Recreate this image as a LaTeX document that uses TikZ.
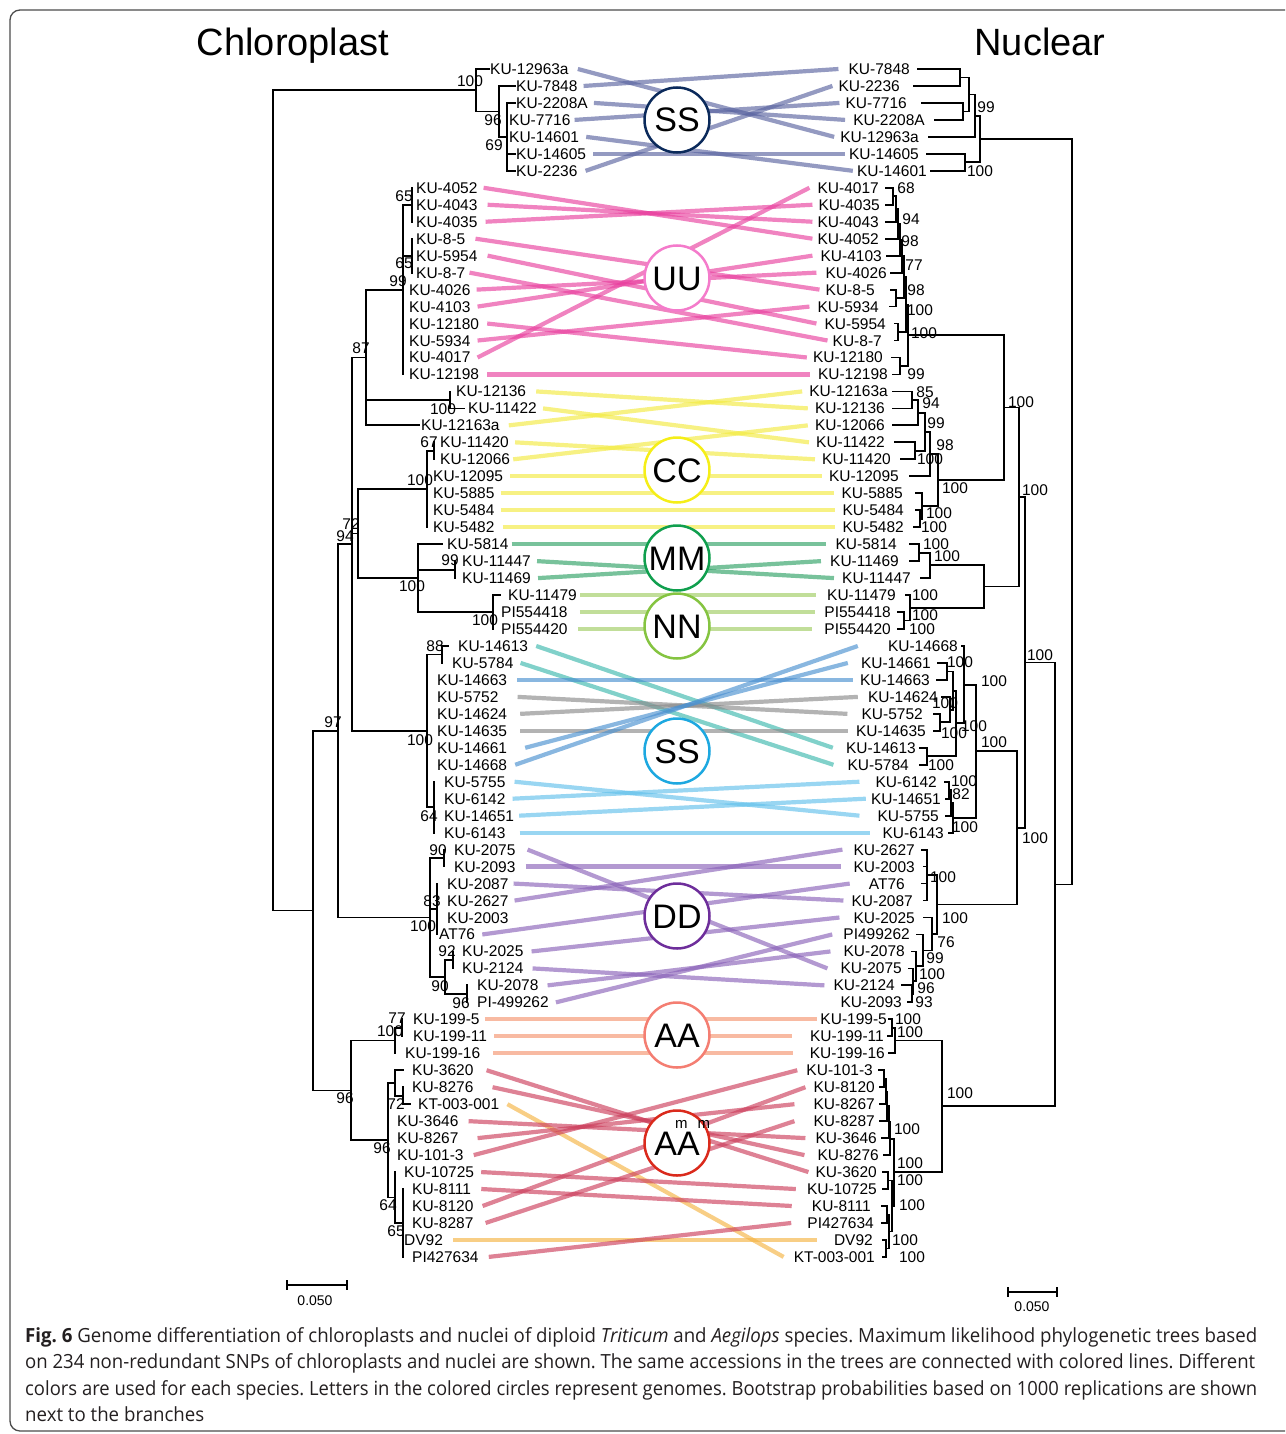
\documentclass[tikz,border=0pt]{standalone}
\usepackage{fontspec}
\setmainfont{Liberation Sans}
\newfontfamily\capfont{Open Sans}
\definecolor{ssL}{HTML}{5A64A0}
\definecolor{uuL}{HTML}{E8409E}
\definecolor{ccL}{HTML}{F2EA40}
\definecolor{mmL}{HTML}{2FA266}
\definecolor{nnL}{HTML}{9FCC62}
\definecolor{teL}{HTML}{3DB8AD}
\definecolor{blL}{HTML}{4A90D0}
\definecolor{grL}{HTML}{8A8A8A}
\definecolor{lbL}{HTML}{62C0EB}
\definecolor{ddL}{HTML}{8A62B8}
\definecolor{aaL}{HTML}{F59570}
\definecolor{amL}{HTML}{CC3F5C}
\definecolor{orL}{HTML}{F5B444}
\definecolor{ssC}{HTML}{0B2A5B}
\definecolor{uuC}{HTML}{F47BCB}
\definecolor{ccC}{HTML}{F5EE18}
\definecolor{mmC}{HTML}{109F4E}
\definecolor{nnC}{HTML}{85C441}
\definecolor{s2C}{HTML}{1DA8E0}
\definecolor{ddC}{HTML}{6E2E9B}
\definecolor{aaC}{HTML}{F47E72}
\definecolor{amC}{HTML}{DA2A1C}
\definecolor{capC}{HTML}{231F20}
\newcommand\lf{\fontsize{15.5}{17}\selectfont}
\newcommand\cf{\capfont\fontsize{19.5}{22}\selectfont\frenchspacing}
\newcommand\lk[5]{\draw[#1] ([xshift=#4pt]l#2.east) -- ([xshift=-#5pt]r#3.west);}
\newcommand\supm{\rlap{\kern-2pt\raisebox{27pt}{\fontsize{15}{15}\selectfont m}}}
\newcommand\capA{\textbf{Fig. 6} Genome differentiation of chloroplasts and nuclei of diploid \textit{Triticum} and \textit{Aegilops} species. Maximum likelihood phylogenetic trees based}
\newcommand\capB{on 234 non-redundant SNPs of chloroplasts and nuclei are shown. The same accessions in the trees are connected with colored lines. Different}
\newcommand\capC{colors are used for each species. Letters in the colored circles represent genomes. Bootstrap probabilities based on 1000 replications are shown}
\newlength\capw
\tikzset{
 brn/.style={line width=1.8pt, line cap=rect},
 ll/.style={anchor=west, inner sep=0pt, font=\lf, text height=11pt, text depth=0pt},
 rl/.style={anchor=east, inner sep=0pt, font=\lf, text height=11pt, text depth=0pt},
 bs/.style={inner sep=0pt, font=\lf, text height=11pt, text depth=0pt},
 lnk/.style={line width=4.2pt, draw opacity=0.65},
 cSS/.style={lnk, draw=ssL}, cUU/.style={lnk, draw=uuL}, cCC/.style={lnk, draw=ccL},
 cMM/.style={lnk, draw=mmL}, cNN/.style={lnk, draw=nnL}, cTe/.style={lnk, draw=teL},
 cBl/.style={lnk, draw=blL}, cGr/.style={lnk, draw=grL}, cLb/.style={lnk, draw=lbL},
 cDD/.style={lnk, draw=ddL}, cAA/.style={lnk, draw=aaL}, cAm/.style={lnk, draw=amL},
 cOr/.style={lnk, draw=orL},
 circ/.style={circle, fill=white, line width=2.5pt, minimum size=65pt, inner sep=0pt, font=\fontsize{34}{34}\selectfont, text height=24pt, text depth=0pt},
 ttl/.style={inner sep=0pt, font=\fontsize{38}{40}\selectfont, text height=27pt, text depth=0pt},
 captxt/.style={anchor=west, inner sep=0pt, font=\cf, text=capC, text height=14pt, text depth=0pt},
 sbar/.style={line width=1.6pt},
 sbl/.style={inner sep=0pt, font=\fontsize{14}{16}\selectfont, text height=10pt, text depth=0pt},
}
\begin{document}
\settowidth\capw{\cf\capA}
\pgfmathsetmacro\capsx{1232/\capw}
\begin{tikzpicture}[x=1pt, y=-1pt]
\useasboundingbox (0,0) rectangle (1285,1434);
\clip (0,0) rectangle (1285,1434);
\draw[line width=1.3pt, draw=black!70, rounded corners=10pt] (10,10) rectangle (1300,1431);

\node[ttl] (tChl) at (293,42) {Chloroplast};
\node[ttl] (tNuc) at (1040,42) {Nuclear};

\begin{scope}[yshift=-69pt, y=-16.97pt]
% left labels
\foreach \xa/\tx [count=\i from 0] in {490/KU-12963a,516/KU-7848,516/KU-2208A,509/KU-7716,509/KU-14601,516/KU-14605,516/KU-2236,
416/KU-4052,416/KU-4043,416/KU-4035,416/KU-8-5,416/KU-5954,416/KU-8-7,409/KU-4026,409/KU-4103,409/KU-12180,409/KU-5934,409/KU-4017,409/KU-12198,
456/KU-12136,468/KU-11422,421/KU-12163a,440/KU-11420,440/KU-12066,433/KU-12095,433/KU-5885,433/KU-5484,433/KU-5482,
447/KU-5814,462/KU-11447,462/KU-11469,508/KU-11479,501/PI554418,501/PI554420,
458/KU-14613,452/KU-5784,437/KU-14663,437/KU-5752,437/KU-14624,437/KU-14635,437/KU-14661,437/KU-14668,444/KU-5755,444/KU-6142,444/KU-14651,444/KU-6143,
454/KU-2075,454/KU-2093,447/KU-2087,447/KU-2627,447/KU-2003,439/AT76,462/KU-2025,462/KU-2124,477/KU-2078,477/PI-499262,
413/KU-199-5,413/KU-199-11,405/KU-199-16,
412/KU-3620,412/KU-8276,418/KT-003-001,397/KU-3646,397/KU-8267,397/KU-101-3,404/KU-10725,412/KU-8111,412/KU-8120,412/KU-8287,404/DV92,412/PI427634}
 {\node[ll] (l\i) at (\xa,\i) {\tx};}
% right labels and leaf branches
\foreach \xa/\tx/\ta/\na [count=\i from 0] in {910/KU-7848/918/960,900/KU-2236/914/960,907/KU-7716/922/963,925/KU-2208A/935/963,919/KU-12963a/929/975,919/KU-14605/927/965,927/KU-14601/931/965,
879/KU-4017/886/893,880/KU-4035/886/893,879/KU-4043/886/896,879/KU-4052/886/898,882/KU-4103/887/900,887/KU-4026/891/902,875/KU-8-5/891/896,879/KU-5934/890/896,886/KU-5954/895/898,882/KU-8-7/895/898,883/KU-12180/892/900,888/KU-12198/893/900,
888/KU-12163a/893/912,885/KU-12136/893/912,885/KU-12066/893/918,885/KU-11422/895/915,891/KU-11420/901/915,899/KU-12095/910/930,903/KU-5885/916/922,904/KU-5484/916/920,904/KU-5482/914/920,
897/KU-5814/910/919,899/KU-11469/910/919,911/KU-11447/921/930,896/KU-11479/906/910,891/PI554418/898/904,891/PI554420/898/904,
958/KU-14668/962/964,931/KU-14661/938/947,930/KU-14663/937/947,938/KU-14624/942/950,923/KU-5752/934/940,926/KU-14635/934/940,916/KU-14613/920/927,909/KU-5784/920/927,937/KU-6142/945/949,941/KU-14651/946/949,939/KU-5755/946/951,944/KU-6143/949/953,
915/KU-2627/922/927,915/KU-2003/924/927,905/AT76/922/927,913/KU-2087/924/927,915/KU-2025/924/932,910/PI499262/917/923,905/KU-2078/912/916,902/KU-2075/909/913,895/KU-2124/902/912,902/KU-2093/908/912,
887/KU-199-5/889/892,884/KU-199-11/888/892,885/KU-199-16/889/895,
873/KU-101-3/879/884,875/KU-8120/880/884,875/KU-8267/880/886,875/KU-8287/880/887,877/KU-3646/882/889,879/KU-8276/884/890,877/KU-3620/883/888,877/KU-10725/883/888,871/KU-8111/882/887,874/PI427634/882/887,873/DV92/883/886,875/KT-003-001/883/886}
 {\node[rl] (r\i) at (\xa,\i) {\tx}; \draw[brn] (\ta,\i) -- (\na,\i);}

% left tree
\draw[brn] (273,1.25)--(476,1.25) (476,0)--(476,2.5) (476,2.5)--(499,2.5) (499,1)--(499,4) (499,4)--(507,4) (507,2)--(507,6)
 (476,0)--(489,0) (499,1)--(515,1) (507,2)--(515,2) (507,5)--(515,5) (507,6)--(515,6)
 (273,1.25)--(273,49.59) (273,49.59)--(313,49.59) (313,39)--(313,60.19) (313,39)--(338,39) (338,28)--(338,50) (338,28)--(352,28)
 (352,17)--(352,39) (352,17)--(366,17) (366,13)--(366,21) (366,13)--(403,13) (403,8)--(403,18) (403,8)--(412,8) (412,7)--(412,9) (403,11)--(412,11) (412,10)--(412,12)
 (366,19.5)--(450,19.5) (450,19)--(450,20) (450,20)--(464,20) (366,21)--(419,21)
 (352,27.375)--(358,27.375) (358,24.75)--(358,30) (358,24.75)--(427,24.75) (427,22.5)--(427,27) (427,22.5)--(434,22.5) (434,22)--(434,23)
 (358,30)--(418,30) (418,28)--(418,32) (418,28)--(442,28) (418,29.5)--(455,29.5) (455,29)--(455,30) (418,32)--(493,32) (493,31)--(493,33) (493,31)--(500,31)
 (352,39)--(427,39) (427,34.5)--(427,43.5) (427,34.5)--(442,34.5) (442,34)--(442,35) (442,34)--(448,34) (427,43.5)--(434,43.5) (434,42)--(434,45)
 (338,50)--(430,50) (430,46.5)--(430,53.5) (430,46.5)--(444,46.5) (444,46)--(444,47) (430,49.5)--(437,49.5) (437,48)--(437,51)
 (430,53.5)--(445,53.5) (445,52.5)--(445,54.5) (445,52.5)--(453,52.5) (453,52)--(453,53) (445,54.5)--(467,54.5) (467,54)--(467,55)
 (313,60.19)--(351,60.19) (351,57.25)--(351,63.125) (351,57.25)--(395,57.25) (395,56.5)--(395,58) (395,56.5)--(402,56.5) (402,56)--(402,57)
 (351,63.125)--(388,63.125) (388,59.75)--(388,66.5) (388,59.75)--(395,59.75) (395,59)--(395,60.5) (395,59)--(403,59) (395,60.5)--(403,60.5) (403,60)--(403,61) (403,61)--(410,61)
 (388,66.5)--(395,66.5) (395,65)--(395,68) (395,68)--(403,68) (403,66)--(403,70);

% right tree
\draw[brn] (960,0)--(960,1) (963,2)--(963,3) (960,0.5)--(969,0.5) (963,2.5)--(969,2.5) (969,0.5)--(969,2.5) (969,1.5)--(975,1.5) (975,1.5)--(975,4)
 (965,5)--(965,6) (975,2.75)--(980,2.75) (965,5.5)--(980,5.5) (980,2.75)--(980,5.5) (980,4.125)--(1072,4.125) (1072,4.125)--(1072,48.05);
\draw[brn] (893,7)--(893,8) (893,7.5)--(896,7.5) (896,7.5)--(896,9) (896,8.25)--(898,8.25) (898,8.25)--(898,10) (898,9.125)--(900,9.125) (900,9.125)--(900,11)
 (900,10.06)--(902,10.06) (902,10.06)--(902,12) (896,13)--(896,14) (898,15)--(898,16) (902,11.03)--(904,11.03) (896,13.5)--(904,13.5) (904,11.03)--(904,13.5)
 (904,12.27)--(906,12.27) (898,15.5)--(906,15.5) (906,12.27)--(906,15.5) (900,17)--(900,18) (906,13.88)--(908,13.88) (900,17.5)--(908,17.5) (908,13.88)--(908,17.5)
 (908,15.69)--(1004,15.69);
\draw[brn] (912,19)--(912,20) (912,19.5)--(918,19.5) (918,19.5)--(918,21) (915,22)--(915,23) (918,20.25)--(925,20.25) (915,22.5)--(925,22.5) (925,20.25)--(925,22.5)
 (925,21.375)--(930,21.375) (930,21.375)--(930,24) (920,26)--(920,27) (920,26.5)--(922,26.5) (922,25)--(922,26.5) (930,22.69)--(938,22.69) (922,25.75)--(938,25.75)
 (938,22.69)--(938,25.75) (938,24.22)--(1004,24.22) (1004,15.69)--(1004,24.22) (1004,19.95)--(1019,19.95);
\draw[brn] (919,28)--(919,29) (919,28.5)--(930,28.5) (930,28.5)--(930,30) (930,29.25)--(984,29.25) (904,32)--(904,33) (904,32.5)--(910,32.5) (910,31)--(910,32.5)
 (910,31.75)--(984,31.75) (984,29.25)--(984,31.75) (984,30.5)--(1019,30.5) (1019,19.95)--(1019,30.5) (1019,25.22)--(1025,25.22);
\draw[brn] (947,35)--(947,36) (940,38)--(940,39) (940,38.5)--(950,38.5) (950,37)--(950,38.5) (947,35.5)--(953,35.5) (950,37.75)--(953,37.75) (953,35.5)--(953,37.75)
 (927,40)--(927,41) (953,36.63)--(956,36.63) (927,40.5)--(956,40.5) (956,36.63)--(956,40.5) (956,38.56)--(964,38.56) (964,34)--(964,38.56)
 (949,42)--(949,43) (949,42.5)--(951,42.5) (951,42.5)--(951,44) (951,43.25)--(953,43.25) (953,43.25)--(953,45)
 (964,36.28)--(976,36.28) (953,44.13)--(976,44.13) (976,36.28)--(976,44.13) (976,40.2)--(1017,40.2);
\draw[brn] (927,46)--(927,49) (912,54)--(912,55) (912,54.5)--(913,54.5) (913,53)--(913,54.5) (913,53.75)--(916,53.75) (916,52)--(916,53.75) (916,52.88)--(923,52.88)
 (923,51)--(923,52.88) (923,51.94)--(932,51.94) (932,50)--(932,51.94) (927,47.5)--(937,47.5) (932,50.97)--(937,50.97) (937,47.5)--(937,50.97) (937,49.23)--(1017,49.23)
 (1017,40.2)--(1017,49.23) (1017,44.72)--(1025,44.72) (1025,25.22)--(1025,44.72) (1025,34.97)--(1055,34.97);
\draw[brn] (892,56)--(892,57) (892,56.5)--(895,56.5) (895,56.5)--(895,58) (895,57.25)--(942,57.25)
 (884,59)--(884,60) (884,59.5)--(886,59.5) (886,59.5)--(886,61) (886,60.25)--(887,60.25) (887,60.25)--(887,62) (887,61.13)--(889,61.13) (889,61.13)--(889,63)
 (889,62.06)--(890,62.06) (890,62.06)--(890,64) (888,65)--(888,66) (887,67)--(887,68) (886,69)--(886,70) (887,67.5)--(889,67.5) (886,69.5)--(889,69.5)
 (889,67.5)--(889,69.5) (888,65.5)--(892,65.5) (889,68.5)--(892,68.5) (892,65.5)--(892,68.5) (890,63.03)--(894,63.03) (892,67)--(894,67) (894,63.03)--(894,67)
 (894,65)--(942,65) (942,57.25)--(942,65) (942,61.13)--(1055,61.13) (1055,34.97)--(1055,61.13) (1055,48.05)--(1072,48.05);
\end{scope}

% bootstrap values
\foreach \xa/\ya/\tx [count=\i] in {470/81/100,493/120/96,494/145/69,404/196/65,404/263/65,398/281/99,361/348/87,443/409/100,429/442/67,420/480/100,
351/524/72,345/536/94,450/560/99,412/586/100,485/620/100,435/646/88,333/722/97,420/740/100,429/816/64,438/850/90,432/901/83,423/926/100,
447/951/92,440/986/90,461/1003/96,397/1018/77,390/1031/100,345/1098/96,396/1104/72,382/1148/96,388/1205/64,396/1231/65}
 {\node[bs] (bl\i) at (\xa,\ya) {\tx};}
\foreach \xa/\ya/\tx [count=\i] in {986/107/99,980/171/100,906/188/68,911/219/94,910/241/98,914/265/77,916/290/98,920/310/100,924/333/100,916/374/99,
925/392/85,931/403/94,936/423/99,945/445/98,930/459/100,955/488/100,939/513/100,934/527/100,1021/402/100,1035/490/100,936/544/100,947/556/100,
925/595/100,925/615/100,922/629/100,1040/655/100,960/662/100,945/703/100,954/733/100,941/765/100,974/726/100,994/681/100,964/781/100,961/794/82,
965/827/100,994/742/100,1035/838/100,943/877/100,955/918/100,946/942/76,935/958/99,932/974/100,926/988/96,924/1002/93,908/1019/100,910/1032/100,
960/1093/100,907/1129/100,910/1163/100,910/1180/100,912/1205/100,905/1240/100,912/1257/100}
 {\node[bs] (br\i) at (\xa,\ya) {\tx};}

% links
\lk{cSS}{0}{4}{9}{6} \lk{cSS}{1}{0}{6}{10} \lk{cSS}{2}{3}{6}{8} \lk{cSS}{3}{2}{4}{6}
\lk{cSS}{4}{6}{7}{4} \lk{cSS}{5}{5}{7}{4} \lk{cSS}{6}{1}{8}{6}
\lk{cUU}{7}{10}{6}{5} \lk{cUU}{8}{9}{10}{5} \lk{cUU}{9}{8}{8}{6} \lk{cUU}{10}{13}{10}{6}
\lk{cUU}{11}{15}{10}{8} \lk{cUU}{12}{16}{4}{5} \lk{cUU}{13}{12}{6}{9} \lk{cUU}{14}{11}{7}{8}
\lk{cUU}{15}{17}{8}{6} \lk{cUU}{16}{14}{7}{8} \lk{cUU}{17}{7}{7}{8} \lk{cUU}{18}{18}{8}{8}
\lk{cCC}{19}{20}{10}{7} \lk{cCC}{20}{22}{6}{7} \lk{cCC}{21}{19}{9}{7} \lk{cCC}{22}{23}{6}{7}
\lk{cCC}{23}{21}{3}{7} \lk{cCC}{24}{24}{7}{7} \lk{cCC}{25}{25}{6}{7} \lk{cCC}{26}{26}{6}{7} \lk{cCC}{27}{27}{8}{7}
\lk{cMM}{28}{28}{3}{9} \lk{cMM}{29}{30}{6}{8} \lk{cMM}{30}{29}{7}{9}
\lk{cNN}{31}{31}{3}{11} \lk{cNN}{32}{32}{12}{9} \lk{cNN}{33}{33}{10}{12}
\lk{cTe}{34}{40}{8}{13} \lk{cTe}{35}{41}{7}{14} \lk{cBl}{36}{36}{10}{7} \lk{cGr}{37}{38}{19}{14}
\lk{cGr}{38}{37}{13}{10} \lk{cGr}{39}{39}{13}{8} \lk{cBl}{40}{35}{18}{13} \lk{cBl}{41}{34}{8}{30}
\lk{cLb}{42}{44}{9}{18} \lk{cLb}{43}{42}{7}{16} \lk{cLb}{44}{43}{5}{5} \lk{cLb}{45}{45}{14}{12}
\lk{cDD}{46}{53}{12}{13} \lk{cDD}{47}{47}{10}{12} \lk{cDD}{48}{49}{5}{8} \lk{cDD}{49}{46}{6}{11}
\lk{cDD}{51}{48}{7}{19} \lk{cDD}{52}{50}{8}{14} \lk{cDD}{53}{54}{9}{9} \lk{cDD}{54}{52}{9}{13} \lk{cDD}{55}{51}{7}{11}
\lk{cAA}{56}{56}{5}{3} \lk{cAA}{57}{57}{7}{18} \lk{cAA}{58}{58}{13}{17}
\lk{cAm}{59}{65}{13}{7} \lk{cAm}{60}{64}{19}{13} \lk{cOr}{61}{70}{8}{10} \lk{cAm}{62}{63}{10}{10}
\lk{cAm}{63}{61}{19}{19} \lk{cAm}{64}{59}{10}{9} \lk{cAm}{65}{66}{7}{11} \lk{cAm}{66}{67}{10}{20}
\lk{cAm}{67}{60}{9}{8} \lk{cAm}{68}{62}{12}{19} \lk{cOr}{69}{69}{10}{17} \lk{cAm}{70}{68}{10}{16}

% genome circles
\node[circ, draw=ssC] (gSS) at (677,120) {SS};
\node[circ, draw=uuC] (gUU) at (677,278) {UU};
\node[circ, draw=ccC] (gCC) at (677,470) {CC};
\node[circ, draw=mmC] (gMM) at (677,558) {MM};
\node[circ, draw=nnC] (gNN) at (677,626) {NN};
\node[circ, draw=s2C] (gS2) at (677,751) {SS};
\node[circ, draw=ddC] (gDD) at (677,916) {DD};
\node[circ, draw=aaC] (gAA) at (677,1035) {AA};
\node[circ, draw=amC] (gAm) at (677,1143) {A\supm A\supm};

% scale bars
\draw[sbar] (287,1285) -- (347,1285) (287,1280) -- (287,1290) (347,1280) -- (347,1290);
\node[sbl] (sl1) at (315,1300) {0.050};
\draw[sbar] (1008,1292) -- (1057,1292) (1008,1287) -- (1008,1297) (1057,1287) -- (1057,1297);
\node[sbl] (sl2) at (1032,1306) {0.050};

% caption
\node[captxt] (cap1) at (25,1335) {\resizebox{1232pt}{\height}{\capA}};
\node[captxt] (cap2) at (25,1361) {\resizebox{1230pt}{\height}{\capB}};
\node[captxt] (cap3) at (25,1388) {\resizebox{1232pt}{\height}{\capC}};
\node[captxt] (cap4) at (25,1414) {\scalebox{\capsx}[1]{next to the branches}};
\end{tikzpicture}
\end{document}
